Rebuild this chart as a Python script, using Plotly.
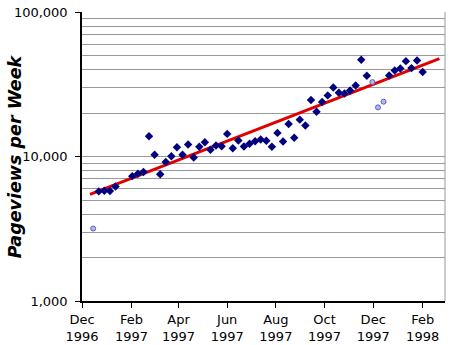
import plotly.graph_objects as go

# Weekly pageviews (regular weeks)
weeks = [
    "1996-12-22", "1996-12-29", "1997-01-05", "1997-01-12",
    "1997-02-02", "1997-02-09", "1997-02-16", "1997-02-23", "1997-03-02",
    "1997-03-09", "1997-03-16", "1997-03-23", "1997-03-30", "1997-04-06",
    "1997-04-13", "1997-04-20", "1997-04-27", "1997-05-04", "1997-05-11",
    "1997-05-18", "1997-05-25", "1997-06-01", "1997-06-08", "1997-06-15",
    "1997-06-22", "1997-06-29", "1997-07-06", "1997-07-13", "1997-07-20",
    "1997-07-27", "1997-08-03", "1997-08-10", "1997-08-17", "1997-08-24",
    "1997-08-31", "1997-09-07", "1997-09-14", "1997-09-21", "1997-09-28",
    "1997-10-05", "1997-10-12", "1997-10-19", "1997-10-26", "1997-11-02",
    "1997-11-09", "1997-11-16", "1997-11-23",
    "1997-12-21", "1997-12-28", "1998-01-04", "1998-01-11", "1998-01-18",
    "1998-01-25", "1998-02-01",
]
pageviews = [
    5735, 5800, 5765, 6210,
    7314, 7596, 7817, 13804, 10273,
    7548, 9165, 10048, 11590, 10273,
    12100, 9843, 11665, 12550, 11123,
    11909, 11776, 14340, 11407, 12895,
    11722, 12253, 12733, 13100, 12837,
    11665, 14570, 12692, 16810, 13460,
    17995, 16415, 24600, 20430, 23840,
    26480, 30060, 27630, 27330, 28660,
    31020, 46670, 36200,
    36370, 39370, 40640, 45710, 40900,
    46150, 38380,
]

# Excluded / anomalous weeks
outlier_weeks = ["1996-12-15", "1997-11-30", "1997-12-07", "1997-12-14"]
outlier_views = [3172, 32750, 21880, 23950]

# Exponential trend line endpoints
trend_dates = ["1996-12-11", "1998-02-22"]
trend_values = [5470, 47640]

tick_dates = ["1996-12-01", "1997-02-01", "1997-04-01", "1997-06-01",
              "1997-08-01", "1997-10-01", "1997-12-01", "1998-02-01"]
tick_labels = ["Dec<br>1996", "Feb<br>1997", "Apr<br>1997", "Jun<br>1997",
               "Aug<br>1997", "Oct<br>1997", "Dec<br>1997", "Feb<br>1998"]

y_major = [1000, 10000, 100000]
y_major_text = ["1,000", "10,000", "100,000"]
y_minor = [m * d for d in (1000, 10000) for m in range(2, 10)]

fig = go.Figure()
fig.add_trace(go.Scatter(
    x=trend_dates, y=trend_values, mode="lines",
    line=dict(color="#e00000", width=3), hoverinfo="skip"))
fig.add_trace(go.Scatter(
    x=weeks, y=pageviews, mode="markers",
    marker=dict(symbol="diamond", size=6.5, color="#000080")))
fig.add_trace(go.Scatter(
    x=outlier_weeks, y=outlier_views, mode="markers",
    marker=dict(symbol="circle", size=5, color="#b4b8ee",
                line=dict(color="#5560c8", width=1))))

font = "DejaVu Sans, Verdana, sans-serif"
fig.update_layout(
    width=450, height=345,
    margin=dict(l=82, r=5, t=12, b=44),
    paper_bgcolor="white", plot_bgcolor="white",
    showlegend=False,
    font=dict(family=font, size=13, color="black"),
    xaxis=dict(
        type="date", range=["1996-12-01", "1998-03-01"],
        tickmode="array", tickvals=tick_dates, ticktext=tick_labels,
        ticks="outside", ticklen=5, tickcolor="black", tickwidth=1,
        ticklabelstandoff=1, automargin=False,
        showline=True, linecolor="black", linewidth=1.5,
        showgrid=False, zeroline=False,
        tickfont=dict(family=font, size=13),
    ),
    yaxis=dict(
        type="log", range=[3, 5],
        tickmode="array", tickvals=y_major, ticktext=y_major_text,
        ticks="outside", ticklen=5, tickcolor="black", tickwidth=1,
        ticklabelstandoff=5, automargin=False,
        showline=True, linecolor="black", linewidth=1.5,
        showgrid=True, gridcolor="#999999", gridwidth=1,
        minor=dict(tickmode="array", tickvals=y_minor, showgrid=True,
                   gridcolor="#999999", gridwidth=1, ticks=""),
        zeroline=False,
        tickfont=dict(family=font, size=13),
    ),
    annotations=[dict(
        text="<b><i>Pageviews per Week</i></b>", textangle=-90,
        xref="paper", yref="paper", x=-0.185, y=0.5,
        xanchor="center", yanchor="middle", showarrow=False,
        font=dict(family=font, size=17.5, color="black"))],
    shapes=[dict(type="line", xref="paper", yref="paper", x0=1, x1=1,
                 y0=0, y1=1, line=dict(color="#999999", width=1))],
)

fig.write_html("out.html")
